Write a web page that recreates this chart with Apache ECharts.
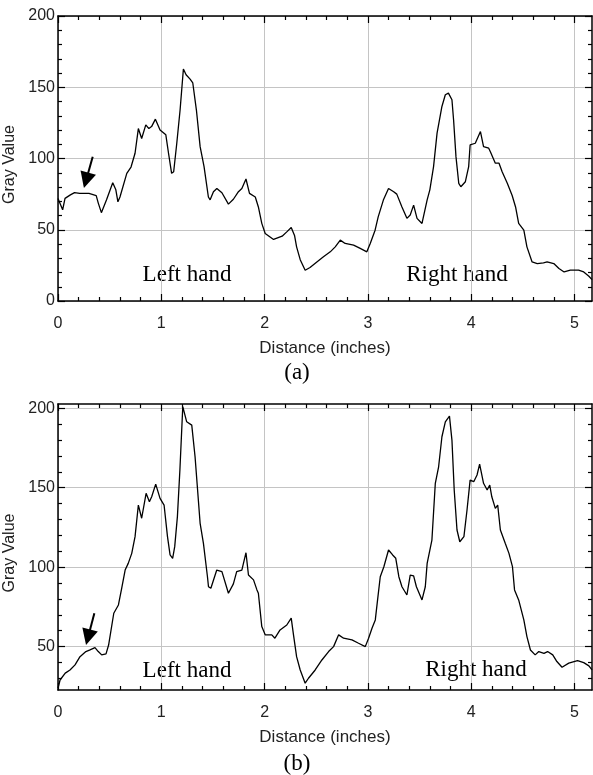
<!DOCTYPE html>
<html>
<head>
<meta charset="utf-8">
<script src="https://cdn.jsdelivr.net/npm/echarts@6/dist/echarts.min.js"></script>
<style>
html, body { margin: 0; padding: 0; background: #fff; }
#chart { width: 593px; height: 775px; }
</style>
</head>
<body>
<div id="chart"></div>
<script>
// profile (a): distance (inches) / gray value
var xA = [0, 0.045, 0.068, 0.12, 0.16, 0.21, 0.3, 0.37, 0.39, 0.42, 0.47, 0.53, 0.56, 0.58, 0.6, 0.666, 0.707, 0.746, 0.778, 0.81,
  0.85, 0.88, 0.906, 0.943, 0.988, 1.044, 1.07, 1.1, 1.12, 1.15, 1.182, 1.214, 1.24, 1.279, 1.305, 1.34, 1.376, 1.414, 1.456, 1.473,
  1.505, 1.538, 1.587, 1.65, 1.698, 1.747, 1.78, 1.82, 1.854, 1.91, 1.94, 1.973, 2.006, 2.087, 2.17, 2.215, 2.258, 2.29, 2.31, 2.345,
  2.393, 2.44, 2.506, 2.57, 2.636, 2.684, 2.733, 2.78, 2.862, 2.926, 2.99, 3.023, 3.07, 3.1, 3.15, 3.2, 3.25, 3.28, 3.33, 3.378,
  3.41, 3.443, 3.476, 3.524, 3.54, 3.574, 3.6, 3.636, 3.67, 3.717, 3.75, 3.78, 3.814, 3.83, 3.853, 3.88, 3.9, 3.944, 3.976, 3.99,
  4.04, 4.057, 4.09, 4.12, 4.17, 4.186, 4.234, 4.27, 4.3, 4.35, 4.397, 4.43, 4.46, 4.51, 4.54, 4.59, 4.64, 4.7, 4.735, 4.8,
  4.85, 4.9, 4.96, 5.04, 5.09, 5.14, 5.17];
var yA = [72, 64, 72, 74.5, 76, 75.5, 75.5, 74, 68.7, 62, 71, 83, 78, 69.6, 73, 89.6, 94, 103.7, 121, 114,
  123.6, 121, 122.4, 127.6, 120, 116.6, 103.7, 89.6, 90.7, 110.7, 134, 162.8, 158.8, 155.7, 153, 134, 108.3, 94.3, 73, 71,
  76.7, 79, 76, 68, 71.4, 76.7, 79, 85.6, 75.5, 73, 66, 54.5, 47.4, 43.2, 45.5, 48.5, 51.6, 46, 38, 29,
  21.6, 23.5, 27.4, 31, 34.5, 38, 42.7, 40.4, 39.2, 36.9, 34.5, 40.4, 49.7, 59, 70.8, 79, 76.7, 75, 66, 58,
  60.3, 67.3, 58, 54.4, 53.3, 71, 78, 94.3, 117.8, 136.5, 144.7, 145.9, 141.2, 127, 101.3, 82.6, 80.2, 83.7, 94.3, 109.5,
  110.7, 111.5, 118.9, 108.3, 107.2, 104.8, 96.7, 96.7, 90.7, 82.6, 74, 66, 54.5, 49.7, 38, 27.4, 26.3, 26.8, 27.4, 26.3,
  22.8, 20.4, 21.6, 21.6, 20.4, 17.4, 15];

// profile (b)
var xB = [0, 0.02, 0.07, 0.116, 0.165, 0.213, 0.27, 0.31, 0.358, 0.39, 0.423, 0.465, 0.49, 0.54, 0.585, 0.616, 0.65, 0.68, 0.714, 0.746,
  0.778, 0.81, 0.853, 0.885, 0.907, 0.946, 0.988, 1.027, 1.06, 1.085, 1.11, 1.13, 1.156, 1.18, 1.208, 1.246, 1.295, 1.327, 1.376, 1.408,
  1.447, 1.457, 1.48, 1.537, 1.587, 1.65, 1.698, 1.73, 1.78, 1.82, 1.844, 1.893, 1.926, 1.94, 1.973, 2.006, 2.07, 2.1, 2.15, 2.215,
  2.258, 2.28, 2.31, 2.345, 2.393, 2.425, 2.49, 2.555, 2.62, 2.668, 2.717, 2.765, 2.846, 2.91, 2.975, 3.007, 3.04, 3.072, 3.094, 3.12,
  3.155, 3.2, 3.24, 3.27, 3.3, 3.33, 3.378, 3.41, 3.443, 3.47, 3.524, 3.556, 3.574, 3.62, 3.653, 3.685, 3.717, 3.75, 3.79, 3.814,
  3.836, 3.863, 3.89, 3.93, 3.96, 3.99, 4.025, 4.057, 4.082, 4.12, 4.155, 4.18, 4.2, 4.234, 4.257, 4.283, 4.33, 4.366, 4.4, 4.42,
  4.46, 4.51, 4.54, 4.574, 4.62, 4.655, 4.705, 4.74, 4.79, 4.83, 4.88, 4.945, 5.03, 5.09, 5.14, 5.17];
var yB = [23.8, 29, 33.3, 35.3, 38.5, 43.7, 46.9, 47.9, 49.4, 46.9, 44.8, 45.4, 51, 71, 76.2, 86.5, 98.2, 102.4, 108.7, 119.2,
  139.1, 130.8, 146.5, 141.2, 144.3, 152.3, 143.3, 139.1, 119.2, 107.7, 105.6, 112.9, 131.8, 161, 201, 191.5, 189.4, 169.5, 127.6, 115,
  94, 87.7, 86.7, 98.2, 97.2, 83.6, 89.5, 97.2, 98.2, 109.1, 95.1, 92, 85.7, 83.6, 62.6, 57.4, 57.4, 55.3, 60.5, 63.6,
  67.9, 57.4, 43.7, 35.3, 27, 30.1, 35.3, 41.6, 46.9, 50, 57.4, 55.3, 54.2, 52.1, 50, 55.3, 61.6, 66.8, 79.4, 94,
  100.3, 110.8, 107.7, 105.6, 94, 87.7, 82.5, 95, 94.5, 87.7, 79.4, 87.7, 102.4, 117.1, 152.8, 163.2, 182.1, 191.5, 195.1, 180,
  148.6, 123.4, 116, 119.2, 136, 154.8, 153.8, 158, 164.9, 152.8, 148.6, 151.7, 144.3, 137, 139.1, 123.4, 115, 108.7, 100.3, 85.7,
  79.4, 66.8, 56.3, 47.9, 44.8, 46.9, 45.8, 46.9, 44.8, 40.6, 37, 39.6, 41.2, 39.9, 37.9, 35.3];

// ticks
var xMajor = [0, 1, 2, 3, 4, 5];
var xMinor = [0.2, 0.4, 0.6, 0.8, 1.2, 1.4, 1.6, 1.8, 2.2, 2.4, 2.6, 2.8, 3.2, 3.4, 3.6, 3.8, 4.2, 4.4, 4.6, 4.8];
var yMajorA = [0, 50, 100, 150, 200];
var yMinorA = [10, 20, 30, 40, 60, 70, 80, 90, 110, 120, 130, 140, 160, 170, 180, 190];
var yMajorB = [50, 100, 150, 200];
var yMinorB = [30, 40, 60, 70, 80, 90, 110, 120, 130, 140, 160, 170, 180, 190];

var xRange = [0, 5.17];
var yRangeA = [0, 200];
var yRangeB = [22.7, 202.7];

// arrows (data coords): start, head
var arrowA = [[0.336, 101.2], [0.272, 84.7]];
var arrowB = [[0.352, 71], [0.291, 55.9]];

var sans = "'Liberation Sans Narrow', 'Liberation Sans', Arial, sans-serif";
var serif = "'Liberation Serif', 'Times New Roman', serif";

function pairs(xs, ys) {
    var res = [];
    for (var i = 0; i < xs.length; i++) res.push([xs[i], ys[i]]);
    return res;
}

// major + minor axis on each side of the box
function boxAxes(grid, range, majors, minors, isX, name) {
    var sides = isX ? ['bottom', 'top'] : ['left', 'right'];
    var list = [];
    sides.forEach(function (side, s) {
        list.push({
            type: 'value', gridIndex: grid, position: side,
            min: range[0], max: range[1],
            name: s === 0 ? name : '',
            nameLocation: 'middle',
            nameGap: isX ? 39 : 35,
            nameTextStyle: isX
                ? { fontFamily: sans, fontSize: 17, color: '#222' }
                : { fontFamily: "'Liberation Sans', Arial, sans-serif", fontSize: 16, color: '#222', padding: [0, 12, 0, 0] },
            axisLine: { show: true, onZero: false, lineStyle: { color: '#000', width: 1.5 } },
            axisTick: { show: true, inside: true, length: 7, customValues: majors, lineStyle: { color: '#000', width: 1.2 } },
            axisLabel: {
                show: s === 0, customValues: majors, margin: isX ? 15 : 3,
                fontFamily: sans, fontSize: 16, color: '#222'
            },
            splitLine: { show: s === 0, lineStyle: { color: '#c4c4c4', width: 1 } }
        });
        list.push({
            type: 'value', gridIndex: grid, position: side,
            min: range[0], max: range[1],
            axisLine: { show: false, onZero: false },
            axisTick: { show: true, inside: true, length: 4, customValues: minors, lineStyle: { color: '#000', width: 1.2 } },
            axisLabel: { show: false },
            splitLine: { show: false }
        });
    });
    return list;
}

function arrowLine(a) {
    return {
        silent: true,
        symbol: ['none', 'triangle'],
        symbolSize: 16,
        lineStyle: { color: '#000', width: 2, type: 'solid' },
        itemStyle: { color: '#000' },
        label: { show: false },
        emphasis: { disabled: true },
        data: [[{ coord: a[0] }, { coord: a[1] }]]
    };
}

function caption(txt, x, y) {
    return {
        type: 'text', x: x, y: y, silent: true,
        style: { text: txt, font: '23px ' + serif, fill: '#000', align: 'center', verticalAlign: 'middle' }
    };
}

var chart = echarts.init(document.getElementById('chart'));
var option = {
    backgroundColor: '#fff',
    animation: false,
    grid: [
        { left: 58, right: 1, top: 16, height: 285, containLabel: false, outerBoundsMode: 'none' },
        { left: 58, right: 1, top: 404, height: 286, containLabel: false, outerBoundsMode: 'none' }
    ],
    xAxis: boxAxes(0, xRange, xMajor, xMinor, true, 'Distance (inches)')
        .concat(boxAxes(1, xRange, xMajor, xMinor, true, 'Distance (inches)')),
    yAxis: boxAxes(0, yRangeA, yMajorA, yMinorA, false, 'Gray Value')
        .concat(boxAxes(1, yRangeB, yMajorB, yMinorB, false, 'Gray Value')),
    series: [
        {
            type: 'line', xAxisIndex: 0, yAxisIndex: 0,
            data: pairs(xA, yA), showSymbol: false,
            lineStyle: { color: '#000', width: 1.3 },
            markLine: arrowLine(arrowA)
        },
        {
            type: 'line', xAxisIndex: 4, yAxisIndex: 4,
            data: pairs(xB, yB), showSymbol: false,
            lineStyle: { color: '#000', width: 1.3 },
            markLine: arrowLine(arrowB)
        }
    ],
    graphic: [
        caption('Left hand', 187, 275),
        caption('Right hand', 457, 275),
        caption('(a)', 297, 373),
        caption('Left hand', 187, 671),
        caption('Right hand', 476, 670),
        caption('(b)', 297, 764)
    ]
};
chart.setOption(option);
</script>
</body>
</html>
